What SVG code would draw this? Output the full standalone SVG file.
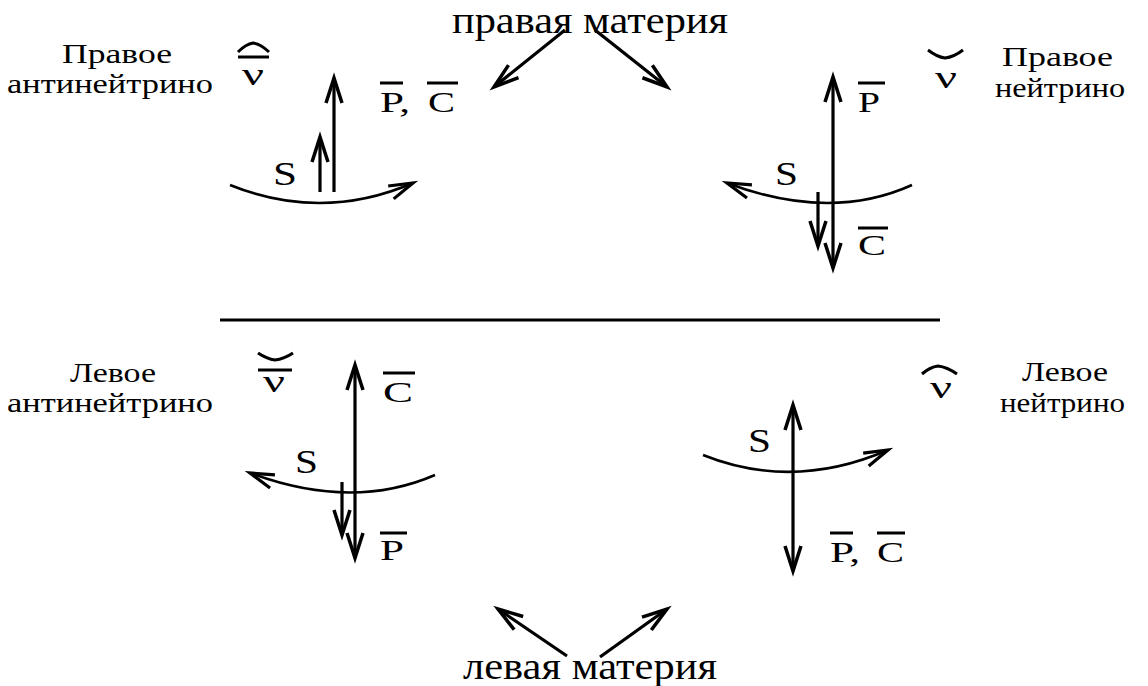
<svg xmlns="http://www.w3.org/2000/svg" width="1148" height="686" viewBox="0 0 1148 686">
<defs>
<marker id="ah" markerUnits="userSpaceOnUse" markerWidth="40" markerHeight="30" viewBox="-30 -15 40 30" refX="0" refY="0" orient="auto-start-reverse">
<path d="M-25,-8 L0,0 L-25,8" fill="none" stroke="#000" stroke-width="3.5" stroke-linejoin="miter"/>
</marker>
<marker id="ahc" markerUnits="userSpaceOnUse" markerWidth="40" markerHeight="30" viewBox="-30 -15 40 30" refX="0" refY="0" orient="auto">
<path d="M-24,-7 L0,0 L-24,7" fill="none" stroke="#000" stroke-width="3.2"/>
</marker>
</defs>
<style>
.t{font-family:"Liberation Serif","Times New Roman",serif;fill:#000}
.lbl{font-size:28px}
.pc{font-size:30px}
.big{font-size:37px}
.sym{font-size:31px}
.s{font-size:33px}
.ax{stroke:#000;stroke-width:3.2;fill:none}
.cv{stroke:#000;stroke-width:2.6;fill:none}
.bar{stroke:#000;stroke-width:3;fill:none}
</style>
<rect width="1148" height="686" fill="#fff"/>

<g id="top-title">
<text class="t big" x="452" y="33" textLength="276" lengthAdjust="spacingAndGlyphs">правая материя</text>
</g>
<g id="bottom-title">
<text class="t big" x="463" y="679" textLength="254" lengthAdjust="spacingAndGlyphs">левая материя</text>
</g>

<g id="right-antineutrino">
<text class="t lbl" x="62" y="63" textLength="110" lengthAdjust="spacingAndGlyphs">Правое</text>
<text class="t lbl" x="7" y="93" textLength="206" lengthAdjust="spacingAndGlyphs">антинейтрино</text>
<path class="bar" d="M238,52 Q246,44 253,43 Q261,44 269,52"/>
<line class="bar" x1="238" y1="57" x2="269" y2="57"/>
<text class="t sym" x="242" y="85" textLength="22" lengthAdjust="spacingAndGlyphs">ν</text>
<line class="ax" x1="334" y1="192" x2="334" y2="78" marker-end="url(#ah)"/>
<line class="ax" x1="320" y1="192" x2="320" y2="137" marker-end="url(#ah)"/>
<path class="cv" d="M230,185 Q322,222 413,183" marker-end="url(#ahc)"/>
<text class="t s" x="273" y="185" textLength="24" lengthAdjust="spacingAndGlyphs">S</text>
<text class="t pc" x="380" y="112" textLength="30" lengthAdjust="spacingAndGlyphs">P,</text>
<text class="t pc" x="428" y="112" textLength="27" lengthAdjust="spacingAndGlyphs">C</text>
<line class="bar" x1="380" y1="83" x2="403" y2="83"/>
<line class="bar" x1="427" y1="83" x2="458" y2="83"/>
</g>

<g id="right-neutrino">
<text class="t lbl" x="1002" y="66" textLength="111" lengthAdjust="spacingAndGlyphs">Правое</text>
<text class="t lbl" x="995" y="97" textLength="130" lengthAdjust="spacingAndGlyphs">нейтрино</text>
<path class="bar" d="M928,50 Q937,57 945,58 Q954,57 963,50"/>
<text class="t sym" x="935" y="88" textLength="22" lengthAdjust="spacingAndGlyphs">ν</text>
<line class="ax" x1="833" y1="77" x2="833" y2="268" marker-start="url(#ah)" marker-end="url(#ah)"/>
<line class="ax" x1="818" y1="192" x2="818" y2="246" marker-end="url(#ah)"/>
<path class="cv" d="M912,185 Q830,222 727,183" marker-end="url(#ahc)"/>
<text class="t s" x="775" y="185" textLength="23" lengthAdjust="spacingAndGlyphs">S</text>
<text class="t pc" x="858" y="112" textLength="22" lengthAdjust="spacingAndGlyphs">P</text>
<line class="bar" x1="858" y1="83" x2="885" y2="83"/>
<text class="t pc" x="858" y="255" textLength="28" lengthAdjust="spacingAndGlyphs">C</text>
<line class="bar" x1="858" y1="228" x2="888" y2="228"/>
</g>

<g id="divider">
<line x1="220" y1="320" x2="940" y2="320" stroke="#000" stroke-width="3"/>
</g>

<g id="left-antineutrino">
<text class="t lbl" x="70" y="382" textLength="86" lengthAdjust="spacingAndGlyphs">Левое</text>
<text class="t lbl" x="7" y="412" textLength="206" lengthAdjust="spacingAndGlyphs">антинейтрино</text>
<path class="bar" d="M258,353 Q267,359 275,360 Q284,359 293,353"/>
<line class="bar" x1="258" y1="370" x2="292" y2="370"/>
<text class="t sym" x="263" y="392" textLength="22" lengthAdjust="spacingAndGlyphs">ν</text>
<line class="ax" x1="355" y1="365" x2="355" y2="558" marker-start="url(#ah)" marker-end="url(#ah)"/>
<line class="ax" x1="342" y1="482" x2="342" y2="535" marker-end="url(#ah)"/>
<path class="cv" d="M435,475 Q352,511 250,473" marker-end="url(#ahc)"/>
<text class="t s" x="295" y="473" textLength="23" lengthAdjust="spacingAndGlyphs">S</text>
<text class="t pc" x="383" y="402" textLength="30" lengthAdjust="spacingAndGlyphs">C</text>
<line class="bar" x1="383" y1="373" x2="415" y2="373"/>
<text class="t pc" x="380" y="560" textLength="24" lengthAdjust="spacingAndGlyphs">P</text>
<line class="bar" x1="380" y1="533" x2="407" y2="533"/>
</g>

<g id="left-neutrino">
<text class="t lbl" x="1022" y="381" textLength="86" lengthAdjust="spacingAndGlyphs">Левое</text>
<text class="t lbl" x="1000" y="412" textLength="125" lengthAdjust="spacingAndGlyphs">нейтрино</text>
<path class="bar" d="M922,374 Q930,367 938,366 Q947,367 957,374"/>
<text class="t sym" x="930" y="398" textLength="22" lengthAdjust="spacingAndGlyphs">ν</text>
<line class="ax" x1="793" y1="405" x2="793" y2="571" marker-start="url(#ah)" marker-end="url(#ah)"/>
<path class="cv" d="M703,455 Q793,491 888,450" marker-end="url(#ahc)"/>
<text class="t s" x="748" y="452" textLength="23" lengthAdjust="spacingAndGlyphs">S</text>
<text class="t pc" x="830" y="562" textLength="30" lengthAdjust="spacingAndGlyphs">P,</text>
<text class="t pc" x="877" y="562" textLength="27" lengthAdjust="spacingAndGlyphs">C</text>
<line class="bar" x1="830" y1="533" x2="853" y2="533"/>
<line class="bar" x1="877" y1="533" x2="905" y2="533"/>
</g>

<g id="connectors">
<line class="ax" x1="565" y1="30" x2="494" y2="87" marker-end="url(#ah)"/>
<line class="ax" x1="595" y1="30" x2="667" y2="87" marker-end="url(#ah)"/>
<line class="ax" x1="567" y1="656" x2="498" y2="609" marker-end="url(#ah)"/>
<line class="ax" x1="600" y1="657" x2="667" y2="609" marker-end="url(#ah)"/>
</g>
</svg>
